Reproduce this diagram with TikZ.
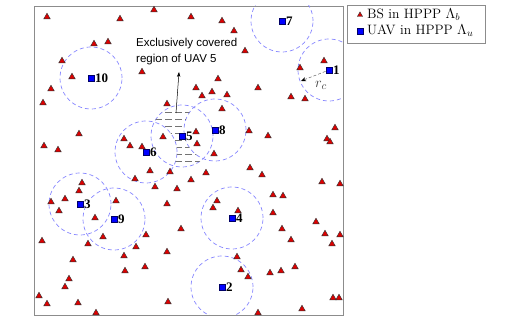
\documentclass[tikz,border=0pt]{standalone}
\usepackage{fontspec}
\newfontfamily\sansf{Liberation Sans}
\newfontfamily\seriff{Liberation Serif}
\usetikzlibrary{shapes.geometric,arrows.meta}
\definecolor{bsred}{RGB}{220,0,0}
\definecolor{circblue}{RGB}{135,135,255}
\definecolor{framegray}{RGB}{140,140,140}
\begin{document}
\begin{tikzpicture}[x=1pt,y=-1pt,
  bs/.style={regular polygon, regular polygon sides=3, fill=bsred, draw=black!80, line width=0.45pt, inner sep=0pt, minimum size=7.5pt},
  uav/.style={rectangle, fill=blue, draw=blue!40!black, line width=0.4pt, inner sep=0pt, minimum size=6.5pt},
  cov/.style={draw=circblue, dash pattern=on 4pt off 3pt, line width=0.7pt},
  hatch/.style={draw=black!55, dash pattern=on 7pt off 3pt, line width=0.6pt},
  lab/.style={font=\seriff\bfseries\fontsize{13}{15}\selectfont, inner sep=0.5pt, anchor=west},
  legtext/.style={font=\fontsize{13.6}{15}\selectfont, inner sep=0pt, anchor=west}]
\useasboundingbox (0,0) rectangle (515,328);
\fill[white] (0,0) rectangle (515,328);
% frame
\draw[framegray, line width=0.8pt] (34,6) rectangle (343,315);
% UAVs (positions)
\coordinate (p1) at (329,70);
\coordinate (p2) at (222,287);
\coordinate (p3) at (80,204);
\coordinate (p4) at (232,218);
\coordinate (p5) at (182,136);
\coordinate (p6) at (146,152);
\coordinate (p7) at (282,21);
\coordinate (p8) at (215,130);
\coordinate (p9) at (114,219);
\coordinate (p10) at (91,78);
% coverage circles
\begin{scope}
\clip (34,6) rectangle (343,315);
\foreach \i in {1,...,10} \draw[cov] (p\i) circle[radius=31pt];
\end{scope}
% exclusively covered region of UAV 5
\begin{scope}
\clip (p5) circle[radius=31pt];
\begin{scope}[even odd rule]
\clip (0,0) rectangle (515,328) (p6) circle[radius=31pt] (p8) circle[radius=31pt];
\foreach \yy in {112,119,...,162} \draw[hatch] (145,\yy) -- (220,\yy);
\end{scope}
\end{scope}
% base stations
\foreach \x/\y [count=\k] in {47/17,120/19,154/10,94/44,108/42,62/61,72/77,142/72,51/89,43/103,
  167/104,79/134,124/139,130/146,142/147,163/137,44/146,58/150,191/17,222/21,
  234/31,245/51,324/61,300/68,218/79,196/88,212/92,202/96,227/95,258/88,
  291/97,305/99,222/109,335/128,327/139,330/142,249/131,268/136,196/132,197/144,
  214/154,150/171,170/172,135/179,206/173,191/180,155/187,177/189,250/168,82/183,
  79/191,51/202,65/199,116/201,167/204,59/211,95/218,42/241,88/244,103/237,
  146/235,136/247,124/256,167/252,73/260,145/267,125/271,69/279,65/287,39/296,
  47/304,78/303,96/313,168/302,181/229,262/175,322/182,340/184,273/195,283/196,
  217/201,213/208,238/211,273/213,282/229,316/222,325/234,340/235,291/240,332/244,
  237/257,241/270,248/277,270/273,281/271,295/267,333/298,339/298,302/309,258/313}
  \node[bs] (b\k) at (\x,\y) {};
% UAV markers and labels
\foreach \i in {1,...,10} {
  \node[uav] (u\i) at (p\i) {};
  \node[lab] (l\i) at (u\i.east) {\i};
}
% annotation
\node[font=\sansf\fontsize{11.5}{16}\selectfont, align=left, anchor=north west, inner sep=0pt] (ann) at (136,38) {Exclusively covered\\region of UAV 5};
\coordinate (a0) at (176,113);
\coordinate (a1) at (179,72);
\draw[line width=0.5pt, -{Stealth[length=5pt,width=3.5pt]}] (a0) -- (a1);
% r_c
\coordinate (rcend) at (301,81);
\draw[black!60, dash pattern=on 3pt off 2pt, line width=0.5pt, -{Stealth[black,length=5pt,width=4pt]}] (u1) -- (rcend);
\node[font=\fontsize{15}{17}\selectfont, text=black!75] (rc) at (321,85) {$r_c$};
% legend
\node[draw=framegray, line width=0.6pt, rectangle, anchor=north west, minimum width=138pt, minimum height=38pt, inner sep=0pt] (leg) at (347,5) {};
\node[bs, minimum size=6pt] (lbs) at (360,15) {};
\node[uav] (luav) at (360,31) {};
\node[legtext] (tbs) at (367,15) {BS in HPPP $\Lambda_b$};
\node[legtext] (tuav) at (367,31) {UAV in HPPP $\Lambda_u$};
\end{tikzpicture}
\end{document}
